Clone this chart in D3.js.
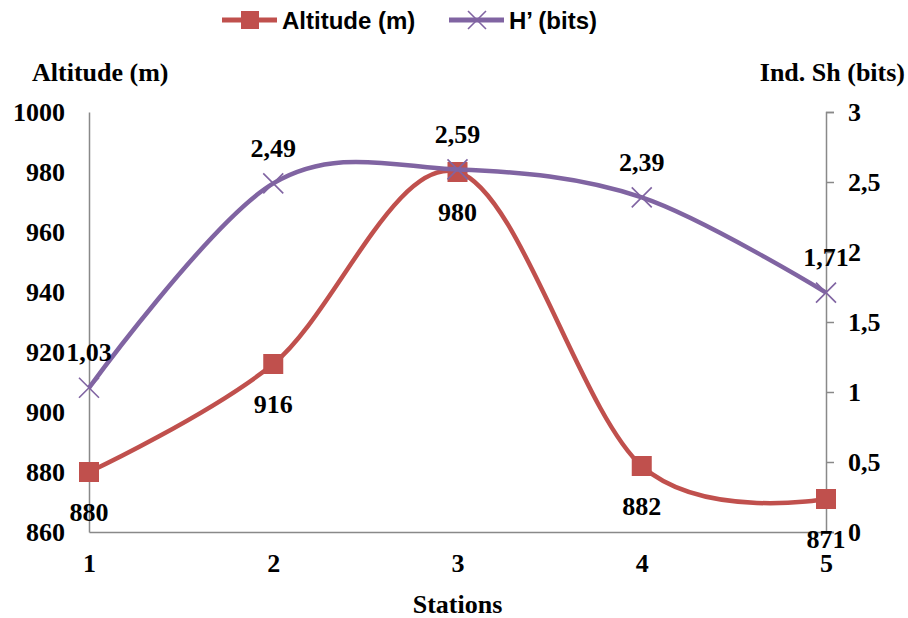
<!DOCTYPE html>
<html>
<head>
<meta charset="utf-8">
<style>
    body { margin: 0; background: #fff; }
</style>
</head>
<body>
<svg width="908" height="618"></svg>
<script src="https://cdn.jsdelivr.net/npm/d3@7/dist/d3.min.js"></script>
<script>
    var stations = [1, 2, 3, 4, 5];
    var altitude = [880, 916, 980, 882, 871];
    var shannon = [1.03, 2.49, 2.59, 2.39, 1.71];
    var altTicks = [860, 880, 900, 920, 940, 960, 980, 1000];
    var shTicks = [0, 0.5, 1, 1.5, 2, 2.5, 3];

    var red = "#C0504D", purple = "#8064A2";
    var serif = "'Liberation Serif', 'Times New Roman', Times, serif";
    var narrow = "'Liberation Sans Narrow', 'Liberation Sans', Arial, sans-serif";

    var svg = d3.select("svg"),
        margin = { top: 112, right: 82, bottom: 86, left: 89 },
        width = +svg.attr("width") - margin.left - margin.right,
        height = +svg.attr("height") - margin.top - margin.bottom,
        g = svg.append("g").attr("transform", "translate(" + margin.left + "," + margin.top + ")");

    var fmt = function (v) { return String(v).replace(".", ","); };
    function styleText(sel) {
        sel.style("font-family", serif).style("font-weight", "bold")
            .style("font-size", "26px").attr("fill", "#000");
    }

    var x = d3.scalePoint().domain(stations).range([0, width]);
    var yL = d3.scaleLinear().domain([860, 1000]).range([height, 0]);
    var yR = d3.scaleLinear().domain([0, 3]).range([height, 0]);

    // axes
    g.append("g")
        .attr("transform", "translate(0," + height + ")")
        .call(d3.axisBottom(x).tickSize(0).tickPadding(22))
        .call(function (s) { styleText(s.selectAll("text")); });

    g.append("g")
        .call(d3.axisLeft(yL).tickValues(altTicks).tickSize(0).tickPadding(24).tickFormat(d3.format("d")))
        .call(function (s) { styleText(s.selectAll("text")); });

    g.append("g")
        .attr("transform", "translate(" + width + ",0)")
        .call(d3.axisRight(yR).tickValues(shTicks).tickSize(8).tickPadding(14).tickFormat(fmt))
        .call(function (s) { styleText(s.selectAll("text")); });

    g.selectAll(".domain").attr("stroke", "#898989").attr("stroke-width", 1.5);
    g.selectAll(".tick line").attr("stroke", "#898989").attr("stroke-width", 1.5);

    // axis titles
    svg.append("text").attr("x", 32).attr("y", 81).text("Altitude (m)").call(styleText);
    svg.append("text").attr("x", 905).attr("y", 81).attr("text-anchor", "end").text("Ind. Sh (bits)").call(styleText);
    svg.append("text").attr("x", margin.left + width / 2).attr("y", 613)
        .attr("text-anchor", "middle").text("Stations").call(styleText);

    var curve = d3.curveCardinal.tension(0);

    // altitude series
    var lineAlt = d3.line().x(function (d, i) { return x(stations[i]); }).y(function (d) { return yL(d); }).curve(curve);
    g.append("path").datum(altitude).attr("d", lineAlt)
        .attr("fill", "none").attr("stroke", red).attr("stroke-width", 4.5);
    g.selectAll(".sq").data(altitude).enter().append("rect")
        .attr("x", function (d, i) { return x(stations[i]) - 10; })
        .attr("y", function (d) { return yL(d) - 10; })
        .attr("width", 20).attr("height", 20).attr("fill", red);

    // shannon series
    var lineSh = d3.line().x(function (d, i) { return x(stations[i]); }).y(function (d) { return yR(d); }).curve(curve);
    g.append("path").datum(shannon).attr("d", lineSh)
        .attr("fill", "none").attr("stroke", purple).attr("stroke-width", 4.5);
    g.selectAll(".xm").data(shannon).enter().append("path")
        .attr("transform", function (d, i) { return "translate(" + x(stations[i]) + "," + yR(d) + ")"; })
        .attr("d", "M-10,-10L10,10M-10,10L10,-10")
        .attr("stroke", purple).attr("stroke-width", 1.6).attr("fill", "none");

    // data labels
    g.selectAll(".la").data(altitude).enter().append("text")
        .attr("x", function (d, i) { return x(stations[i]); })
        .attr("y", function (d) { return yL(d) + 40; })
        .attr("dy", "0.35em").attr("text-anchor", "middle")
        .text(function (d) { return d; }).call(styleText);
    g.selectAll(".ls").data(shannon).enter().append("text")
        .attr("x", function (d, i) { return x(stations[i]); })
        .attr("y", function (d) { return yR(d) - 36; })
        .attr("dy", "0.35em").attr("text-anchor", "middle")
        .text(function (d) { return fmt(d.toFixed(2)); }).call(styleText);

    // legend
    var legend = svg.append("g");
    var items = [
        { name: "Altitude (m)", color: red, x: 222, shape: "square" },
        { name: "H\u2019 (bits)", color: purple, x: 449, shape: "x" }
    ];
    items.forEach(function (it) {
        var lg = legend.append("g").attr("transform", "translate(" + it.x + ",20)");
        lg.append("line").attr("x1", 0).attr("x2", 55).attr("stroke", it.color).attr("stroke-width", 5);
        if (it.shape === "square") {
            lg.append("rect").attr("x", 19).attr("y", -9).attr("width", 18).attr("height", 18).attr("fill", it.color);
        } else {
            lg.append("path").attr("d", "M19,-9L37,9M19,9L37,-9").attr("stroke", it.color).attr("stroke-width", 1.6);
        }
        lg.append("text").attr("x", 60).attr("dy", "0.36em").text(it.name)
            .style("font-family", narrow).style("font-weight", "bold").style("font-size", "24px");
    });
</script>
</body>
</html>
